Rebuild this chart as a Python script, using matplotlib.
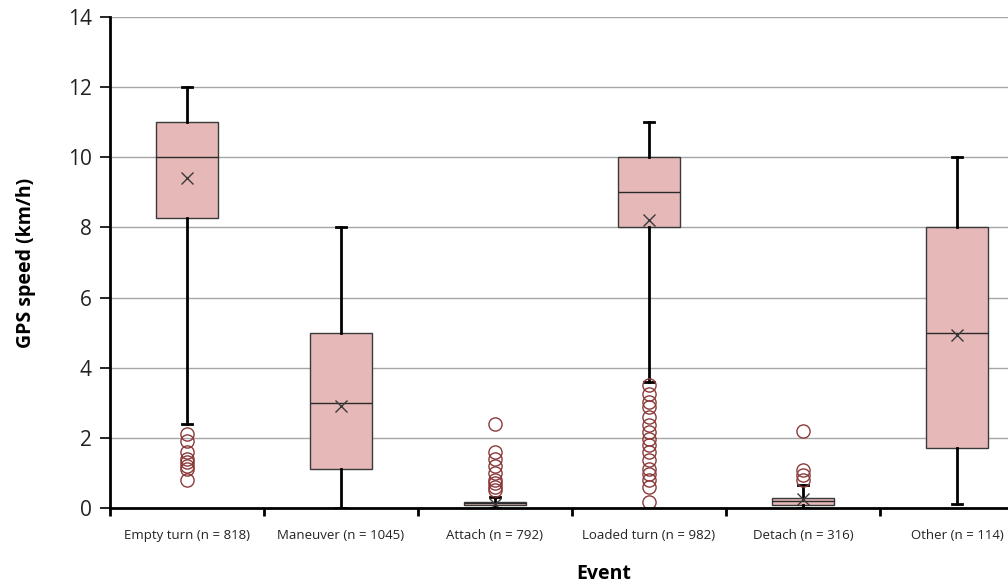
import numpy as np
import matplotlib.pyplot as plt

plt.rcParams['font.family'] = ['Open Sans', 'DejaVu Sans']

categories = ["Empty turn (n = 818)", "Maneuver (n = 1045)", "Attach (n = 792)",
              "Loaded turn (n = 982)", "Detach (n = 316)", "Other (n = 114)"]
whislo = [2.4, 0.0, 0.0, 3.6, 0.0, 0.1]
q1 = [8.27, 1.1, 0.09, 8.0, 0.09, 1.7]
med = [10.0, 3.0, 0.13, 9.0, 0.19, 5.0]
q3 = [11.0, 5.0, 0.17, 10.0, 0.29, 8.0]
whishi = [12.0, 8.0, 0.3, 11.0, 0.65, 10.0]
means = [9.42, 2.9, 0.1, 8.22, 0.25, 4.93]
fliers = [
    [2.1, 1.9, 1.6, 1.4, 1.3, 1.2, 1.1, 0.8],
    [],
    [2.4, 1.6, 1.4, 1.2, 1.0, 0.8, 0.7, 0.6, 0.5],
    [3.5, 3.26, 3.02, 2.88, 2.6, 2.36, 2.17, 1.98, 1.79, 1.6, 1.36, 1.12,
     0.98, 0.79, 0.6, 0.17],
    [2.2, 1.09, 0.93, 0.79],
    [],
]

stats = []
for i in range(len(categories)):
    stats.append(dict(whislo=whislo[i], q1=q1[i], med=med[i], q3=q3[i],
                      whishi=whishi[i], mean=means[i], fliers=fliers[i]))

fig = plt.figure(figsize=(10.08, 5.86), dpi=100)
# axis runs past the right edge of the picture, as in the reference
ax = fig.add_axes([110 / 1008, 78 / 586, 924 / 1008, 491 / 586])

positions = np.arange(len(categories)) + 0.5
ax.bxp(stats, positions=positions, widths=0.4, showmeans=True,
       patch_artist=True, capwidths=0.07,
       boxprops=dict(facecolor='#e6b8b8', edgecolor='#3a3a3a', linewidth=1.0),
       medianprops=dict(color='#2a2a2a', linewidth=1.0),
       whiskerprops=dict(color='black', linewidth=2.0),
       capprops=dict(color='black', linewidth=2.0),
       meanprops=dict(marker='x', markeredgecolor='#3a3a3a', markersize=9,
                      markeredgewidth=1.0),
       flierprops=dict(marker='o', markerfacecolor='none',
                       markeredgecolor='#8b3a3a', markersize=9.5,
                       markeredgewidth=1.0))

ax.set_ylim(0, 14)
ax.set_xlim(0, len(categories))
ax.set_yticks(np.arange(0, 15, 2))
ax.yaxis.grid(True, color='#a6a6a6', linewidth=1.0)
ax.set_axisbelow(True)

ax.set_xticks(np.arange(0, len(categories) + 1))
ax.set_xticklabels([])
ax.set_xticks(positions, minor=True)
ax.set_xticklabels(categories, minor=True, fontsize=9.5, color='#222222')
ax.tick_params(axis='x', which='minor', length=0, pad=15)
ax.tick_params(axis='x', which='major', length=6, width=2, direction='out')
ax.tick_params(axis='y', length=7, width=1.2, direction='out', labelsize=15,
               pad=6, labelcolor='#222222')

for side in ['top', 'right']:
    ax.spines[side].set_visible(False)
ax.spines['left'].set_linewidth(2)
ax.spines['bottom'].set_linewidth(2)

ax.set_ylabel("GPS speed (km/h)", fontsize=14, fontweight='bold')
ax.yaxis.set_label_coords(-74 / 924, 0.5)
ax.set_xlabel("Event", fontsize=14, fontweight='bold')
ax.xaxis.set_label_coords(494 / 924, -56 / 491)

fig.savefig("out.png", dpi=100)
